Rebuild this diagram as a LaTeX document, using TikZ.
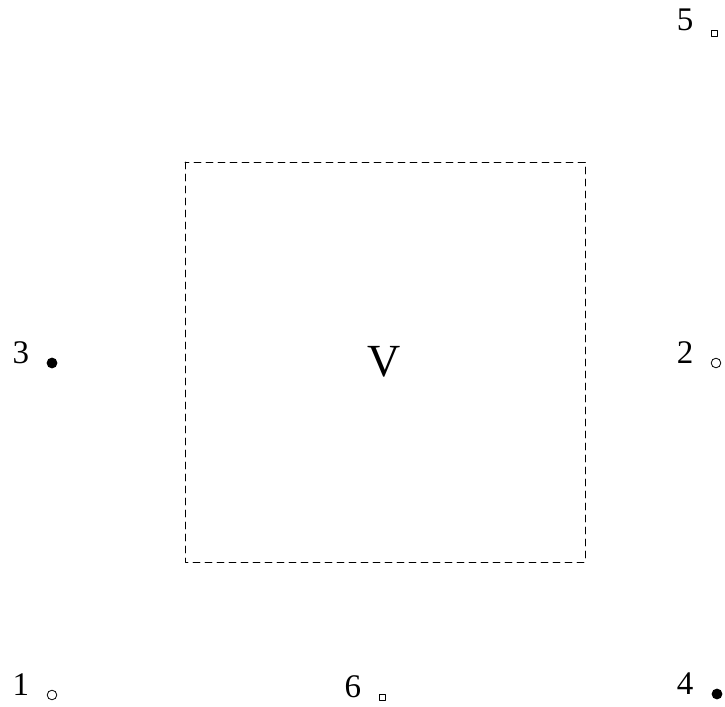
\documentclass[tikz,border=0pt]{standalone}
\usepackage{fontspec}
\setmainfont{Liberation Serif}
\begin{document}
\begin{tikzpicture}[x=0.5pt,y=-0.5pt,line cap=round,line join=round]
  \useasboundingbox (0,0) rectangle (725,707);
  \tikzset{lbl/.style={anchor=base,inner sep=0pt,font=\fontsize{16.5}{18}\selectfont}}
  \draw[line width=0.4pt,dash pattern=on 3.5pt off 2.5pt] (185,162) rectangle (585,562);
  \node[inner sep=0pt,font=\fontsize{23}{26}\selectfont] (V) at (384,362) {V};
  % markers
  \node[lbl] (n1) at (21,695) {1};
  \draw[line width=0.4pt] (52,695) circle (2.4pt);
  \node[lbl] (n2) at (685,363) {2};
  \draw[line width=0.4pt] (716,363) circle (2.4pt);
  \node[lbl] (n3) at (21,363) {3};
  \fill (52,363) circle (2.7pt);
  \node[lbl] (n4) at (685,694) {4};
  \fill (717,694) circle (2.7pt);
  \node[lbl] (n5) at (685,30) {5};
  \draw[line width=0.4pt] (711,30) rectangle (717,36);
  \node[lbl] (n6) at (353,697) {6};
  \draw[line width=0.4pt] (379,694) rectangle (385,700);
\end{tikzpicture}
\end{document}
